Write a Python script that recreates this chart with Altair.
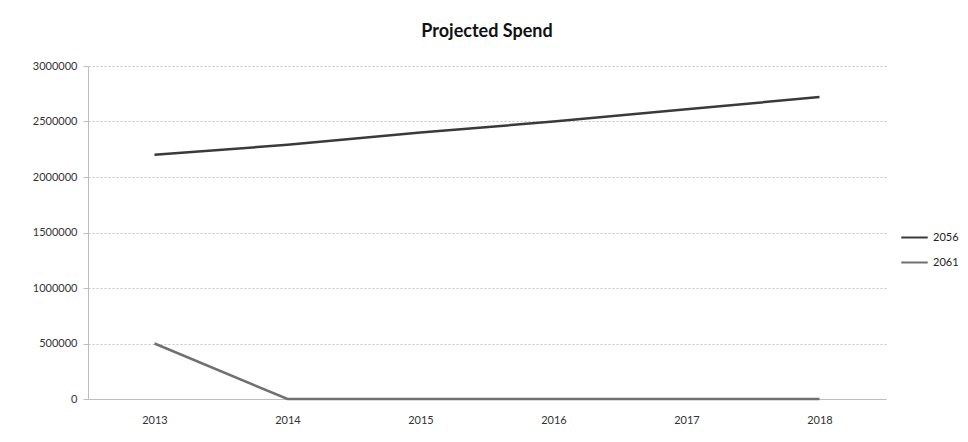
import altair as alt
import pandas as pd

years = ["2013", "2014", "2015", "2016", "2017", "2018"]
series_2056 = [2200000, 2290000, 2400000, 2500000, 2610000, 2720000]
series_2061 = [500000, 0, 0, 0, 0, 0]
series_names = ["2056", "2061"]
y_ticks = [0, 500000, 1000000, 1500000, 2000000, 2500000, 3000000]

rows = []
for y, v in zip(years, series_2056):
    rows.append({"year": y, "series": "2056", "value": v})
for y, v in zip(years, series_2061):
    rows.append({"year": y, "series": "2061", "value": v})
df = pd.DataFrame(rows)

chart = alt.Chart(df).mark_line(strokeWidth=2.5).encode(
    x=alt.X("year:O", sort=years,
            scale=alt.Scale(type="point", padding=0.5),
            axis=alt.Axis(title=None, labelAngle=0, ticks=False, domain=True,
                          domainColor="#bdbdbd", grid=False,
                          labelFont="Lato", labelFontSize=11, labelColor="#333",
                          labelPadding=15)),
    y=alt.Y("value:Q", scale=alt.Scale(domain=[0, 3000000], nice=False),
            axis=alt.Axis(title=None, values=y_ticks, format="d",
                          domain=True, domainColor="#bdbdbd",
                          ticks=True, tickSize=5, tickColor="#bdbdbd",
                          grid=True, gridColor="#c4c4c4", gridDash=[2, 2],
                          labelFont="Lato", labelFontSize=11, labelColor="#333",
                          labelPadding=6)),
    color=alt.Color("series:N", sort=series_names,
                    scale=alt.Scale(domain=series_names, range=["#3a3a3a", "#707070"]),
                    legend=alt.Legend(title=None, orient="none", legendX=812, legendY=157,
                                      symbolType="stroke", symbolSize=700, symbolStrokeWidth=2,
                                      labelFont="Lato", labelFontSize=11, labelColor="#222",
                                      rowPadding=5, labelOffset=4)),
).properties(
    width=798,
    height=333,
    title=alt.TitleParams("Projected Spend", font="Lato", fontSize=18, fontWeight="bold",
                          color="#111", anchor="middle", offset=19),
    autosize=alt.AutoSizeParams(type="none"),
    padding={"left": 80, "top": 58, "right": 74, "bottom": 35},
).configure_view(stroke=None)

chart.save("out.html", embed_options={"renderer": "svg", "actions": False})
